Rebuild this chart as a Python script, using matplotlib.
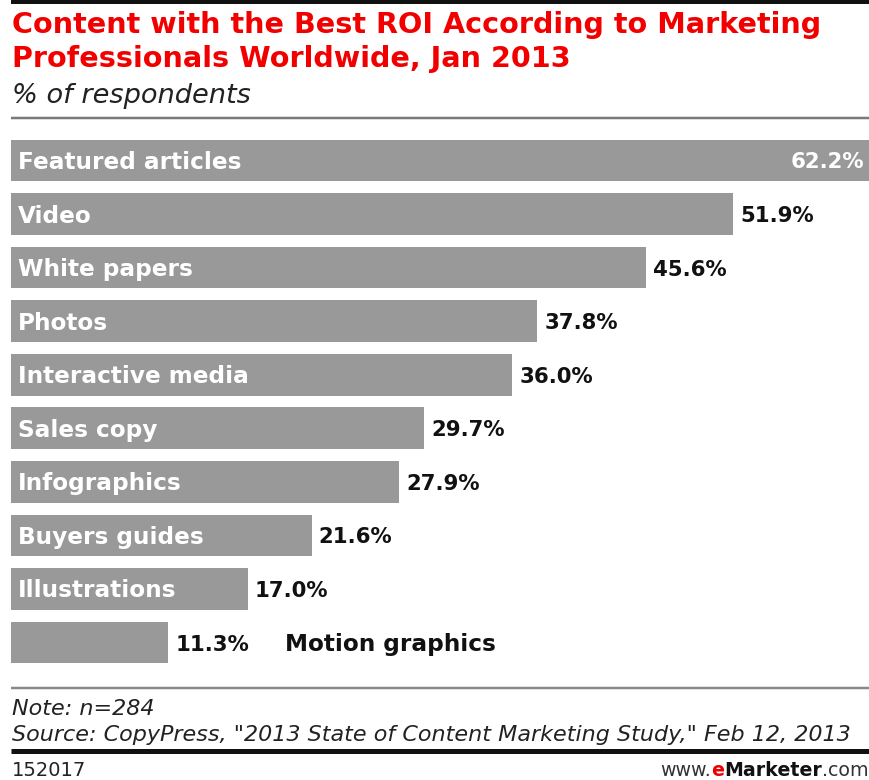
import matplotlib
matplotlib.use("Agg")
import matplotlib.pyplot as plt
from matplotlib.lines import Line2D

categories = ["Featured articles", "Video", "White papers", "Photos",
              "Interactive media", "Sales copy", "Infographics",
              "Buyers guides", "Illustrations", "Motion graphics"]
values = [62.2, 51.9, 45.6, 37.8, 36.0, 29.7, 27.9, 21.6, 17.0, 11.3]

title_lines = ["Content with the Best ROI According to Marketing",
               "Professionals Worldwide, Jan 2013"]
subtitle = "% of respondents"
note = "Note: n=284"
source = 'Source: CopyPress, "2013 State of Content Marketing Study," Feb 12, 2013'
chart_id = "152017"

W, H = 869, 780
fig = plt.figure(figsize=(W / 100, H / 100), dpi=100)
fig.patch.set_facecolor("white")


def fx(x):
    return x / W


def fy(y):
    return 1 - y / H


FONT = "DejaVu Sans"
RED = "#f20000"
BAR = "#999999"

# header
fig.text(fx(12), fy(33), title_lines[0], color=RED, fontsize=20.6, fontweight="bold",
         family=FONT, va="baseline", ha="left")
fig.text(fx(12), fy(67), title_lines[1], color=RED, fontsize=20.6, fontweight="bold",
         family=FONT, va="baseline", ha="left")
fig.text(fx(12), fy(103), subtitle, color="#222222", fontsize=19.6, style="italic",
         family=FONT, va="baseline", ha="left")

# rules
def hline(y, lw, color):
    fig.add_artist(Line2D([fx(11), 1.0], [fy(y), fy(y)], lw=lw * 0.72, color=color,
                          transform=fig.transFigure, solid_capstyle="butt"))


hline(1.5, 4, "#111111")
hline(117.5, 2.5, "#7a7a7a")
hline(687.5, 2.5, "#8a8a8a")
hline(751, 5, "#111111")

# bars
px_per_unit = 13.92
ax_left, ax_top, ax_bottom = 11, 133.7, 669.3
ax_width = max(values) * px_per_unit
ax = fig.add_axes([fx(ax_left), fy(ax_bottom), ax_width / W, (ax_bottom - ax_top) / H])
ax.set_xlim(0, max(values))
ax.set_ylim(len(values) - 0.5, -0.5)
ax.axis("off")

pos = list(range(len(values)))
ax.barh(pos, values, height=0.78, color=BAR, edgecolor="none")

label_fs = 16.7
value_fs = 15.3
for i, (cat, v) in enumerate(zip(categories, values)):
    if i == 0:
        ax.annotate(cat, (0, i), xytext=(7, -8.5), textcoords="offset pixels",
                    color="white", fontsize=label_fs, fontweight="bold", family=FONT,
                    va="baseline", ha="left")
        ax.annotate(f"{v:.1f}%", (v, i), xytext=(-13, -8), textcoords="offset pixels",
                    color="white", fontsize=value_fs, fontweight="bold", family=FONT,
                    va="baseline", ha="right")
    elif i == len(values) - 1:
        ax.annotate(f"{v:.1f}%", (v, i), xytext=(7, -8), textcoords="offset pixels",
                    color="#111111", fontsize=value_fs, fontweight="bold", family=FONT,
                    va="baseline", ha="left")
        ax.annotate(cat, (v, i), xytext=(117, -8.5), textcoords="offset pixels",
                    color="#111111", fontsize=label_fs, fontweight="bold", family=FONT,
                    va="baseline", ha="left")
    else:
        ax.annotate(cat, (0, i), xytext=(7, -8.5), textcoords="offset pixels",
                    color="white", fontsize=label_fs, fontweight="bold", family=FONT,
                    va="baseline", ha="left")
        ax.annotate(f"{v:.1f}%", (v, i), xytext=(7, -8), textcoords="offset pixels",
                    color="#111111", fontsize=value_fs, fontweight="bold", family=FONT,
                    va="baseline", ha="left")

# footer
fig.text(fx(12), fy(715), note, color="#222222", fontsize=16, style="italic",
         family=FONT, va="baseline", ha="left")
fig.text(fx(12), fy(741), source, color="#222222", fontsize=16, style="italic",
         family=FONT, va="baseline", ha="left")
fig.text(fx(12), fy(776), chart_id, color="#222222", fontsize=14,
         family=FONT, va="baseline", ha="left")

# site mark, built from runs of text laid end to end
fig.canvas.draw()
renderer = fig.canvas.get_renderer()
x0 = 660
for part, color, weight in [("www.", "#333333", "normal"), ("e", "#ee0000", "bold"),
                            ("Marketer", "#111111", "bold"), (".com", "#333333", "normal")]:
    t = fig.text(fx(x0), fy(776), part, color=color, fontsize=13.7, fontweight=weight,
                 family=FONT, va="baseline", ha="left")
    x0 += t.get_window_extent(renderer).width

fig.savefig("out.png", dpi=100, facecolor="white")
